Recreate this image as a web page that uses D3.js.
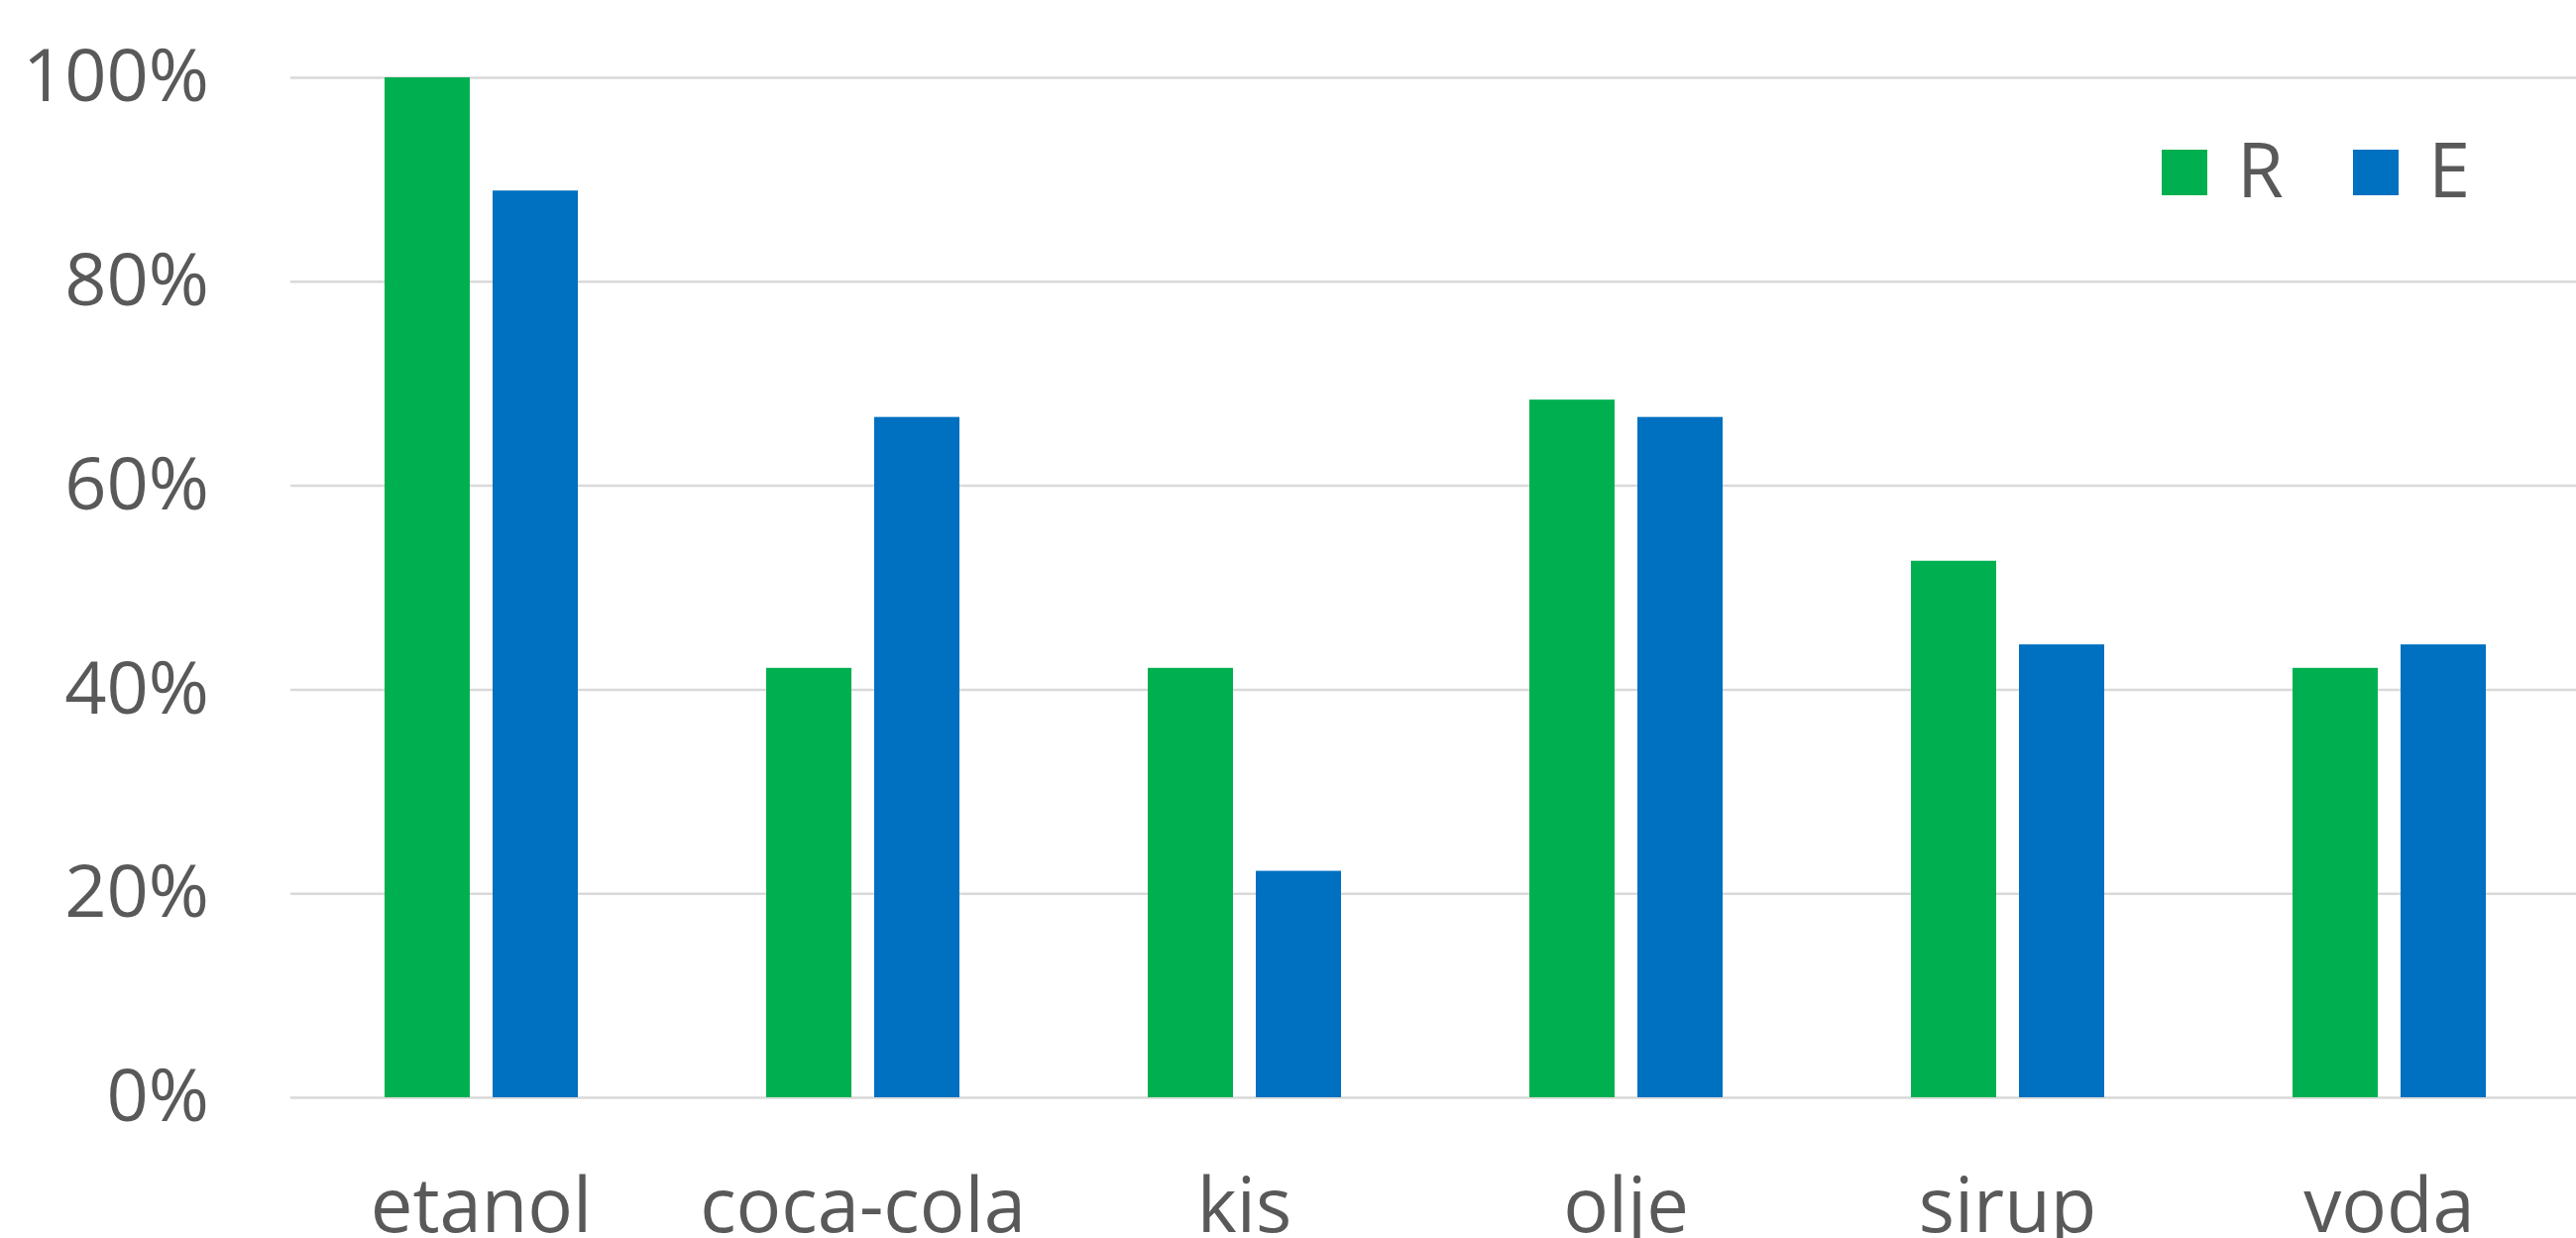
<!DOCTYPE html>
<html>
<head>
<meta charset="utf-8">
<script src="https://cdn.jsdelivr.net/npm/d3@7"></script>
<style>
  body { margin: 0; background: #fff; }
  svg { display: block; font-family: "Open Sans", sans-serif; }
</style>
</head>
<body>
<div id="chart"></div>
<script>
var w = 2599;
var h = 1249;

// data
var categories = ["etanol", "coca-cola", "kis", "olje", "sirup", "voda"];
var seriesNames = ["R", "E"];
var valuesR = [1.0, 0.421, 0.421, 0.684, 0.526, 0.421];
var valuesE = [0.889, 0.667, 0.222, 0.667, 0.444, 0.444];
var yTicks = [0, 0.2, 0.4, 0.6, 0.8, 1.0];

var colors = { "R": "#00B050", "E": "#0070C0" };
var textColor = "#595959";

var margin = { left: 293, top: 78, bottom: 1107 };
var step = 385;

var svg = d3.select("#chart")
	.append("svg")
	.attr("width", w)
	.attr("height", h);

var x0 = d3.scaleBand()
	.domain(categories)
	.range([margin.left, margin.left + step * categories.length])
	.padding(0);

// two bars centred in each band
var x1 = d3.scaleBand()
	.domain(seriesNames)
	.range([x0.bandwidth() / 2 - 97.5, x0.bandwidth() / 2 + 97.5])
	.paddingInner(0.211);

var y = d3.scaleLinear()
	.domain([0, 1])
	.range([margin.bottom, margin.top]);

// gridlines + y labels
var yAxis = svg.append("g")
	.attr("transform", "translate(" + margin.left + ",0)")
	.call(d3.axisLeft(y)
		.tickValues(yTicks)
		.tickFormat(d3.format(".0%"))
		.tickSize(-(w - margin.left))
		.tickPadding(82));

yAxis.select(".domain").remove();
yAxis.selectAll("line")
	.attr("stroke", "#d9d9d9")
	.attr("stroke-width", 2.5);
yAxis.selectAll("text")
	.attr("fill", textColor)
	.style("font-size", "74px")
	.style("font-family", "'Open Sans', sans-serif");

// category labels
var xAxis = svg.append("g")
	.attr("transform", "translate(0," + margin.bottom + ")")
	.call(d3.axisBottom(x0).tickSize(0).tickPadding(82));

xAxis.select(".domain").remove();
xAxis.selectAll("text")
	.attr("fill", textColor)
	.style("font-size", "76px")
	.style("font-family", "'Open Sans', sans-serif");

// bars
var rows = categories.map(function(c, i) {
	return { cat: c, R: valuesR[i], E: valuesE[i] };
});

var groups = svg.selectAll(".grp")
	.data(rows)
	.enter()
	.append("g")
	.classed("grp", true)
	.attr("transform", function(d) { return "translate(" + x0(d.cat) + ",0)"; });

groups.selectAll("rect")
	.data(function(d) { return seriesNames.map(function(s) { return { key: s, value: d[s] }; }); })
	.enter()
	.append("rect")
	.attr("x", function(d) { return x1(d.key); })
	.attr("width", x1.bandwidth())
	.attr("y", function(d) { return y(d.value); })
	.attr("height", function(d) { return y(0) - y(d.value); })
	.attr("fill", function(d) { return colors[d.key]; });

// legend
var legendX = [2181, 2374];
var legend = svg.selectAll(".leg")
	.data(seriesNames)
	.enter()
	.append("g")
	.classed("leg", true)
	.attr("transform", function(d, i) { return "translate(" + legendX[i] + ",151)"; });

legend.append("rect")
	.attr("width", 46)
	.attr("height", 46)
	.attr("fill", function(d) { return colors[d]; });

legend.append("text")
	.attr("x", 76)
	.attr("y", 48)
	.attr("fill", textColor)
	.style("font-size", "76px")
	.text(function(d) { return d; });
</script>
</body>
</html>
